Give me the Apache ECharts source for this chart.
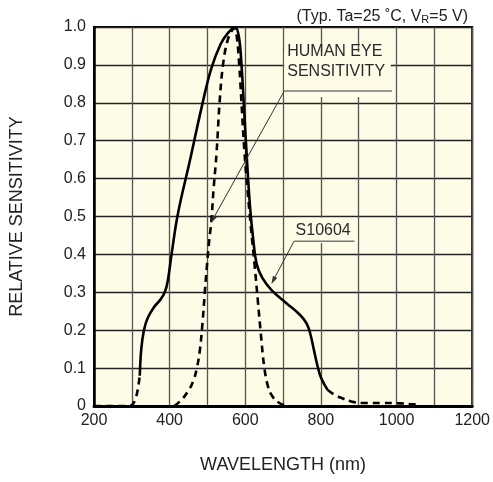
<!DOCTYPE html>
<html><head><meta charset="utf-8">
<script src="https://cdn.jsdelivr.net/npm/echarts@6/dist/echarts.min.js"></script>
<style>html,body{margin:0;padding:0;background:#fff}#c{width:493px;height:482px}</style>
</head><body><div id="c"></div>
<script>
// Wavelength (nm) vs relative sensitivity
const xMin = 200, xMax = 1200, xStep = 100;
const yMin = 0, yMax = 1.0, yStep = 0.1;
const xLabelTicks = [200, 400, 600, 800, 1000, 1200];

const s10604Main = [[321,0.08],[325,0.15],[332,0.2],[342,0.232],[358,0.26],[375,0.28],[387,0.3],[395,0.33],[405,0.4],[422,0.508],[453,0.645],[485,0.79],[510,0.89],[535,0.955],[555,0.985],[573,1.0],[583,0.975],[590,0.9],[597,0.78],[605,0.64],[613,0.52],[621,0.44],[630,0.375],[645,0.338],[670,0.305],[708,0.272],[745,0.24],[762,0.218],[772,0.19],[781,0.15],[790,0.11],[800,0.075],[818,0.042]];
const s10604TailLeft = [[200,0],[250,0],[292,0],[302,0.004],[310,0.02],[316,0.045],[321,0.08]];
const s10604TailRight = [[818,0.042],[835,0.03],[855,0.021],[880,0.012],[910,0.008],[960,0.008],[1010,0.007],[1035,0.005],[1060,0.003]];
const humanEye = [[412,0],[430,0.015],[448,0.038],[462,0.065],[472,0.1],[480,0.148],[487,0.22],[493,0.3],[499,0.375],[505,0.44],[510,0.485],[516,0.57],[524,0.667],[532,0.8],[541,0.9],[552,0.96],[563,0.988],[572,0.997],[578,0.97],[584,0.9],[590,0.8],[598,0.667],[606,0.57],[614,0.48],[625,0.368],[633,0.28],[641,0.192],[650,0.104],[660,0.052],[672,0.025],[690,0.008],[710,0]];

const FONT = 'Liberation Sans, Arial, sans-serif';
const chart = echarts.init(document.getElementById('c'), null, {renderer: 'canvas'});

const lineBase = {type: 'line', showSymbol: false, smooth: 0.4, silent: true, animation: false};

chart.setOption({
  animation: false,
  title: {
    text: '(Typ. Ta=25 ˚C, V{s|R}=5 V)',
    right: 20, top: 3,
    textStyle: {fontFamily: FONT, fontSize: 16, fontWeight: 'normal', color: '#222',
      rich: {s: {fontFamily: FONT, fontSize: 11, color: '#222', verticalAlign: 'bottom', padding: [6, 0, 0, 0]}}}
  },
  grid: {left: 94, right: 20, top: 27, bottom: 76, show: true, backgroundColor: '#fefbe6', borderColor: '#000', borderWidth: 2},
  xAxis: {
    type: 'value', min: xMin, max: xMax, interval: xStep,
    name: 'WAVELENGTH (nm)', nameLocation: 'middle', nameGap: 50,
    nameTextStyle: {fontFamily: FONT, fontSize: 18, color: '#222'},
    axisLine: {show: true, lineStyle: {color: '#000', width: 3}},
    axisTick: {show: false},
    axisLabel: {fontFamily: FONT, fontSize: 16, color: '#222', margin: 7,
      formatter: v => xLabelTicks.includes(v) ? String(v) : ''},
    splitLine: {show: true, lineStyle: {color: '#555', width: 1.3}}
  },
  yAxis: {
    type: 'value', min: yMin, max: yMax, interval: yStep,
    name: 'RELATIVE SENSITIVITY', nameLocation: 'middle', nameGap: 68,
    nameTextStyle: {fontFamily: FONT, fontSize: 18, color: '#222'},
    axisLine: {show: true, lineStyle: {color: '#000', width: 2.5}},
    axisTick: {show: false},
    axisLabel: {fontFamily: FONT, fontSize: 16, color: '#222', margin: 8,
      formatter: v => v === 0 ? '0' : v.toFixed(1)},
    splitLine: {show: true, lineStyle: {color: '#222', width: 1.3}}
  },
  series: [
    Object.assign({}, lineBase, {name: 'HUMAN EYE SENSITIVITY', data: humanEye, lineStyle: {color: '#000', width: 2.6, type: [7, 5]}}),
    Object.assign({}, lineBase, {name: 'S10604 tail L', data: s10604TailLeft, lineStyle: {color: '#000', width: 2.6, type: [7, 5]}}),
    Object.assign({}, lineBase, {name: 'S10604 tail R', data: s10604TailRight, lineStyle: {color: '#000', width: 2.6, type: [7, 5]}}),
    Object.assign({}, lineBase, {name: 'S10604', data: s10604Main, lineStyle: {color: '#000', width: 2.6}})
  ]
});

function P(x, y) { return chart.convertToPixel({gridIndex: 0}, [x, y]); }
function arrow(from, to, color) {
  const dx = to[0] - from[0], dy = to[1] - from[1];
  const L = Math.sqrt(dx * dx + dy * dy), ux = dx / L, uy = dy / L;
  const len = 8, w = 2.5;
  const bx = to[0] - ux * len, by = to[1] - uy * len;
  return [
    {type: 'line', shape: {x1: from[0], y1: from[1], x2: bx, y2: by}, style: {stroke: color, lineWidth: 1}, z: 100},
    {type: 'polygon', shape: {points: [to, [bx - uy * w, by + ux * w], [bx + uy * w, by - ux * w]]}, style: {fill: color}, z: 100}
  ];
}

// annotation anchors in data coordinates
const heBoxTL = P(703, 0.934), heBoxBR = P(985, 0.815);
const heText = P(711, 0.91), heUnderL = P(703, 0.831), heUnderR = P(988, 0.831), heTip = P(509, 0.483);
const sBoxTL = P(727, 0.497), sBoxBR = P(897, 0.43);
const sText = P(733, 0.462), sUnderL = P(729, 0.435), sUnderR = P(889, 0.435), sTip = P(669, 0.322);

const g = [
  {type: 'rect', shape: {x: heBoxTL[0], y: heBoxTL[1], width: heBoxBR[0] - heBoxTL[0], height: heBoxBR[1] - heBoxTL[1]}, style: {fill: '#fefbe6'}, z: 90},
  {type: 'text', x: heText[0], y: heText[1], style: {text: 'HUMAN EYE\nSENSITIVITY', font: '16px ' + FONT, fill: '#2a2a2a', lineHeight: 20, verticalAlign: 'middle', textAlign: 'left'}, z: 101},
  {type: 'line', shape: {x1: heUnderL[0], y1: heUnderL[1], x2: heUnderR[0], y2: heUnderR[1]}, style: {stroke: '#777', lineWidth: 1.5}, z: 101},
  {type: 'rect', shape: {x: sBoxTL[0], y: sBoxTL[1], width: sBoxBR[0] - sBoxTL[0], height: sBoxBR[1] - sBoxTL[1]}, style: {fill: '#fefbe6'}, z: 90},
  {type: 'text', x: sText[0], y: sText[1], style: {text: 'S10604', font: '16px ' + FONT, fill: '#2a2a2a', verticalAlign: 'middle', textAlign: 'left'}, z: 101},
  {type: 'line', shape: {x1: sUnderL[0], y1: sUnderL[1], x2: sUnderR[0], y2: sUnderR[1]}, style: {stroke: '#777', lineWidth: 1.5}, z: 101}
].concat(arrow(heUnderL, heTip, '#333')).concat(arrow(sUnderL, sTip, '#333'));

chart.setOption({graphic: g});
</script>
</body></html>
